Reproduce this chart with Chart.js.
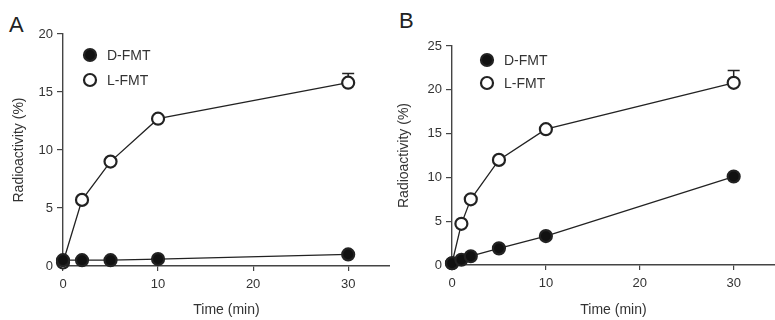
<!DOCTYPE html>
<html>
<head>
<meta charset="utf-8">
<script src="https://cdn.jsdelivr.net/npm/chart.js@4.4.1/dist/chart.umd.min.js"></script>
<style>
  body { margin: 0; background: #fff; }
  #wrap { position: relative; width: 775px; height: 320px; overflow: hidden; }
  .panel { position: absolute; top: 0; width: 390px; height: 320px; }
  .tag { position: absolute; font-family: "Liberation Sans", Arial, sans-serif; font-size: 22px; color: #222; }
</style>
</head>
<body>
<div id="wrap">
  <div class="tag" style="left:9px;top:12px;">A</div>
  <div class="tag" style="left:399px;top:8px;">B</div>
  <div class="panel" style="left:0"><canvas id="chartA" width="390" height="320"></canvas></div>
  <div class="panel" style="left:385px"><canvas id="chartB" width="390" height="320"></canvas></div>
</div>
<script>
// Panel A: uptake over time
const timeA = [0, 2, 5, 10, 30];
const dFmtA = [0.5, 0.5, 0.5, 0.6, 1.0];
const lFmtA = [0.3, 5.7, 9.0, 12.7, 15.8];
const lErrA = [0, 0, 0, 0, 0.8];
const yTicksA = [0, 5, 10, 15, 20];

// Panel B
const timeB = [0, 1, 2, 5, 10, 30];
const dFmtB = [0.2, 0.6, 1.0, 1.9, 3.3, 10.1];
const lFmtB = [0.2, 4.7, 7.5, 12.0, 15.5, 20.8];
const lErrB = [0, 0, 0, 0, 0, 1.4];
const yTicksB = [0, 5, 10, 15, 20, 25];

const xTicks = [0, 10, 20, 30];
const seriesNames = ['D-FMT', 'L-FMT'];

const ink = '#222';
const textCol = '#333';
const fontFam = '"Liberation Sans", Arial, sans-serif';

function pts(xs, ys) {
    return xs.map((x, i) => ({ x: x, y: ys[i] }));
}

// error bars (upper only) drawn through the scales
const errorBars = {
    id: 'errorBars',
    afterDatasetsDraw(chart) {
        const ctx = chart.ctx;
        const xs = chart.scales.x, ys = chart.scales.y;
        chart.data.datasets.forEach(ds => {
            if (!ds.errs) return;
            ds.data.forEach((p, i) => {
                const e = ds.errs[i];
                if (!e) return;
                const px = xs.getPixelForValue(p.x);
                const top = ys.getPixelForValue(p.y + e);
                const from = ys.getPixelForValue(p.y) - ds.pointRadius;
                ctx.save();
                ctx.strokeStyle = ink;
                ctx.lineWidth = 1.5;
                ctx.beginPath();
                ctx.moveTo(px, from);
                ctx.lineTo(px, top);
                ctx.moveTo(px - 6, top);
                ctx.lineTo(px + 6, top);
                ctx.stroke();
                ctx.restore();
            });
        });
    }
};

// small legend in the top left of each panel
const miniLegend = {
    id: 'miniLegend',
    afterDraw(chart, args, opts) {
        const ctx = chart.ctx;
        ctx.save();
        chart.data.datasets.forEach((ds, i) => {
            const cy = opts.y + i * opts.gap;
            ctx.beginPath();
            ctx.arc(opts.x, cy, 6, 0, Math.PI * 2);
            ctx.fillStyle = ds.pointBackgroundColor;
            ctx.fill();
            ctx.lineWidth = 2.2;
            ctx.strokeStyle = ink;
            ctx.stroke();
            ctx.fillStyle = textCol;
            ctx.font = '14px ' + fontFam;
            ctx.textBaseline = 'middle';
            ctx.fillText(ds.label, opts.x + 17, cy + 1);
        });
        ctx.restore();
    }
};

function makeChart(id, tx, d, l, lErr, yTicks, box) {
    const ctx = document.getElementById(id).getContext('2d');
    const base = {
        borderColor: ink,
        borderWidth: 1.3,
        pointRadius: 6,
        pointHoverRadius: 6,
        pointBorderColor: ink,
        pointBorderWidth: 2.2,
        showLine: true,
        clip: false,
        tension: 0
    };
    return new Chart(ctx, {
        type: 'scatter',
        data: {
            datasets: [
                Object.assign({}, base, { label: seriesNames[0], data: pts(tx, d), pointBackgroundColor: '#111' }),
                Object.assign({}, base, { label: seriesNames[1], data: pts(tx, l), pointBackgroundColor: '#fff', errs: lErr })
            ]
        },
        options: {
            responsive: false,
            animation: false,
            layout: { autoPadding: false, padding: { top: box.top, right: 0, bottom: 0, left: 0 } },
            plugins: {
                legend: { display: false },
                tooltip: { enabled: false },
                miniLegend: box.legend
            },
            scales: {
                x: {
                    type: 'linear',
                    min: 0,
                    max: 34.4,
                    afterBuildTicks: s => { s.ticks = xTicks.map(v => ({ value: v })); },
                    afterFit: s => { s.height = box.xh; },
                    grid: { drawOnChartArea: false, tickLength: 5, color: '#444', lineWidth: 1.2 },
                    border: { color: '#444', width: 1.4 },
                    ticks: { color: textCol, font: { family: fontFam, size: 13 }, padding: 6 },
                    title: { display: true, text: 'Time (min)', color: textCol, font: { family: fontFam, size: 14 }, padding: { top: 0, bottom: 1 } }
                },
                y: {
                    min: 0,
                    max: yTicks[yTicks.length - 1],
                    afterBuildTicks: s => { s.ticks = yTicks.map(v => ({ value: v })); },
                    afterFit: s => { s.width = box.yw; },
                    grid: { drawOnChartArea: false, tickLength: 6, color: '#444', lineWidth: 1.2 },
                    border: { color: '#444', width: 1.4 },
                    ticks: { color: textCol, font: { family: fontFam, size: 13 }, padding: 4 },
                    title: { display: true, text: 'Radioactivity (%)', color: textCol, font: { family: fontFam, size: 14 }, padding: { top: 11, bottom: 0 } }
                }
            }
        },
        plugins: [errorBars, miniLegend]
    });
}

document.addEventListener('DOMContentLoaded', function () {
    makeChart('chartA', timeA, dFmtA, lFmtA, lErrA, yTicksA,
        { top: 34, yw: 63, xh: 54, legend: { x: 90, y: 55, gap: 25 } });
    makeChart('chartB', timeB, dFmtB, lFmtB, lErrB, yTicksB,
        { top: 46, yw: 67, xh: 55, legend: { x: 102, y: 60, gap: 23 } });
});
</script>
</body>
</html>
